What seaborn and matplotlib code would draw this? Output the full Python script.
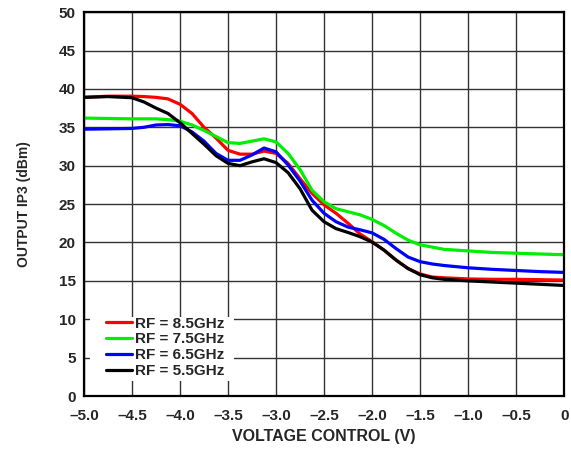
import numpy as np
import pandas as pd
import matplotlib
matplotlib.use("Agg")
import matplotlib.pyplot as plt
from matplotlib.patches import Rectangle
import seaborn as sns

voltage = [-5.0, -4.75, -4.5, -4.375, -4.25, -4.125, -4.0, -3.875, -3.75, -3.625,
           -3.5, -3.375, -3.25, -3.125, -3.0, -2.875, -2.75, -2.625, -2.5, -2.375,
           -2.25, -2.125, -2.0, -1.875, -1.75, -1.625, -1.5, -1.375, -1.25, -1.0,
           -0.75, -0.5, -0.25, 0.0]
ip3_85 = [38.9, 39.05, 39.05, 39.0, 38.9, 38.7, 38.0, 36.8, 35.0, 33.6,
          32.0, 31.5, 31.5, 31.9, 31.6, 30.3, 28.3, 26.4, 24.9, 23.8,
          22.5, 21.1, 20.1, 19.0, 17.7, 16.6, 15.9, 15.5, 15.4, 15.25,
          15.2, 15.2, 15.15, 15.1]
ip3_75 = [36.2, 36.15, 36.1, 36.1, 36.1, 36.0, 35.8, 35.3, 34.6, 33.8,
          33.0, 32.9, 33.2, 33.5, 33.1, 31.6, 29.5, 26.8, 25.3, 24.4,
          24.0, 23.6, 23.0, 22.2, 21.2, 20.3, 19.7, 19.4, 19.1, 18.9,
          18.7, 18.6, 18.5, 18.4]
ip3_65 = [34.75, 34.8, 34.85, 35.0, 35.3, 35.35, 35.2, 34.4, 33.2, 31.6,
          30.7, 30.7, 31.4, 32.3, 31.8, 30.1, 28.0, 25.5, 23.8, 22.7,
          22.0, 21.65, 21.25, 20.4, 19.2, 18.1, 17.5, 17.2, 17.0, 16.7,
          16.5, 16.35, 16.2, 16.1]
ip3_55 = [38.9, 39.0, 38.85, 38.3, 37.5, 36.8, 35.6, 34.2, 32.8, 31.3,
          30.3, 30.0, 30.5, 30.9, 30.4, 29.1, 27.0, 24.2, 22.7, 21.8,
          21.3, 20.75, 20.05, 19.0, 17.7, 16.6, 15.8, 15.4, 15.2, 15.0,
          14.85, 14.7, 14.55, 14.4]

labels = ["RF = 8.5GHz", "RF = 7.5GHz", "RF = 6.5GHz", "RF = 5.5GHz"]
series = [ip3_85, ip3_75, ip3_65, ip3_55]
colors = ["#ff0000", "#00ee00", "#0000ff", "#000000"]

xticks = [-5.0, -4.5, -4.0, -3.5, -3.0, -2.5, -2.0, -1.5, -1.0, -0.5, 0.0]
xtick_labels = ["–5.0", "–4.5", "–4.0", "–3.5", "–3.0", "–2.5", "–2.0", "–1.5", "–1.0", "–0.5", "0"]
yticks = list(range(0, 51, 5))

df = pd.concat([pd.DataFrame({"V": voltage, "IP3": s, "RF": lab})
                for s, lab in zip(series, labels)], ignore_index=True)

sns.set_style("white")
plt.rcParams["font.family"] = ["Liberation Sans", "DejaVu Sans"]
plt.rcParams["font.weight"] = "bold"

fig = plt.figure(figsize=(5.71, 4.49), dpi=100)
ax = fig.add_axes([0.147, 0.118, 0.841, 0.855])

sns.lineplot(data=df, x="V", y="IP3", hue="RF", palette=colors, hue_order=labels,
             linewidth=2.3, ax=ax, sort=False)

ax.set_xlim(-5.0, 0.0)
ax.set_ylim(0, 50)
ax.set_xticks(xticks)
ax.set_xticklabels(xtick_labels)
ax.set_yticks(yticks)
ax.tick_params(axis="x", length=0, labelsize=11, pad=9)
ax.tick_params(axis="y", length=0, labelsize=11, pad=6)
for t in ax.get_xticklabels() + ax.get_yticklabels():
    t.set_fontweight("bold")
ax.grid(True, color="#333333", linewidth=1.0)
for sp in ax.spines.values():
    sp.set_color("black")
    sp.set_linewidth(1.6)

ax.set_xlabel("VOLTAGE CONTROL (V)", fontsize=11.5, fontweight="bold", labelpad=5)
ax.set_ylabel("OUTPUT IP3 (dBm)", fontsize=10, fontweight="bold", labelpad=20)

# white box behind the legend, hiding the grid
ax.add_patch(Rectangle((0.0125, 0.04), 0.30, 0.166, transform=ax.transAxes,
                       facecolor="white", edgecolor="none", zorder=1))

leg = ax.legend(loc="upper left", bbox_to_anchor=(0.045, 0.207), frameon=False,
                fontsize=11, handlelength=1.75, handletextpad=0.2, labelspacing=0.12,
                borderpad=0, borderaxespad=0)
for t in leg.get_texts():
    t.set_fontweight("bold")

fig.savefig("out.png", dpi=100)
